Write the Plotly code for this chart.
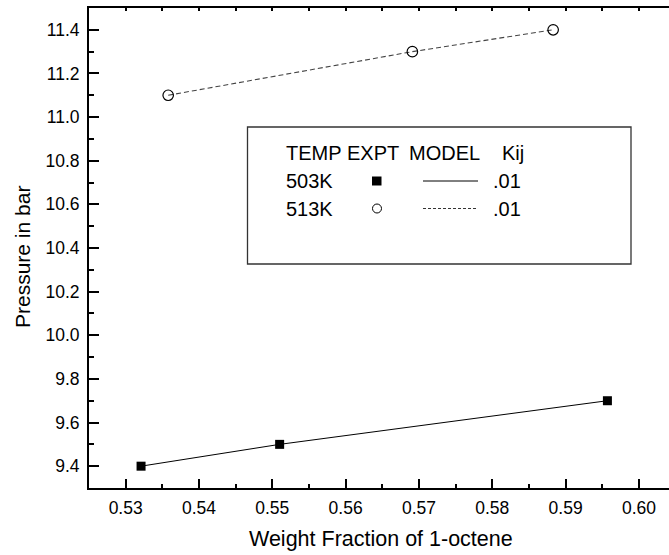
import plotly.graph_objects as go

# ---- data ----
x_503 = [0.5321, 0.5510, 0.5957]
y_503 = [9.4, 9.5, 9.7]
x_513 = [0.5358, 0.5691, 0.5883]
y_513 = [11.1, 11.3, 11.4]

legend_header = ["TEMP", "EXPT", "MODEL", "Kij"]
legend_temps = ["503K", "513K"]
legend_kij = [".01", ".01"]

x_title = "Weight Fraction of 1-octene"
y_title = "Pressure in bar"

FONT = "Liberation Sans, Arial, sans-serif"
W, H = 669, 555
ML, MR, MT, MB = 89, 0, 8, 67
PW = W - ML - MR
PH = H - MT - MB


def px(x):
    return (x - ML) / PW


def py(y):
    return (H - MB - y) / PH


fig = go.Figure()

fig.add_trace(go.Scatter(
    x=x_503, y=y_503, mode="lines+markers",
    line=dict(color="black", width=1),
    marker=dict(symbol="square", size=9, color="black"),
    showlegend=False))

fig.add_trace(go.Scatter(
    x=x_513, y=y_513, mode="lines+markers",
    line=dict(color="#444444", width=1.1, dash="5px,3px"),
    marker=dict(symbol="circle-open", size=10.5, color="black", line=dict(width=1.2)),
    showlegend=False))

# invisible trace to activate top axis
fig.add_trace(go.Scatter(x=[0.53], y=[10], xaxis="x2", mode="markers",
                         marker=dict(opacity=0), showlegend=False, hoverinfo="skip"))

xrange = [0.525, 0.6041]
fig.update_layout(
    width=W, height=H,
    margin=dict(l=ML, r=MR, t=MT, b=MB),
    paper_bgcolor="white", plot_bgcolor="white",
    font=dict(family=FONT, color="black"),
    xaxis=dict(range=xrange, showgrid=False, zeroline=False,
               showline=True, linecolor="black", linewidth=2,
               ticks="inside", ticklen=9, tickwidth=1.5, tickcolor="black",
               dtick=0.01, tick0=0.53, tickformat=".2f",
               minor=dict(ticks="inside", ticklen=4.5, tickwidth=1.5, dtick=0.005, tick0=0.525, tickcolor="black"),
               tickfont=dict(size=17.5, family=FONT), ticklabelstandoff=3),
    xaxis2=dict(range=xrange, overlaying="x", side="top", anchor="y",
                showgrid=False, zeroline=False,
                showline=True, linecolor="black", linewidth=2,
                ticks="inside", ticklen=3, tickwidth=1.5, tickcolor="black",
                dtick=0.005, tick0=0.525, showticklabels=False),
    yaxis=dict(range=[9.3, 11.5], showgrid=False, zeroline=False,
               showline=True, linecolor="black", linewidth=2,
               ticks="inside", ticklen=9.5, tickwidth=1.5, tickcolor="black",
               dtick=0.2, tick0=9.4, tickformat=".1f",
               minor=dict(ticks="inside", ticklen=5, tickwidth=1.5, dtick=0.1, tick0=9.3, tickcolor="black"),
               tickfont=dict(size=17.5, family=FONT), ticklabelstandoff=4),
)

# axis titles
fig.add_annotation(x=px(380.5), y=py(539), xref="paper", yref="paper",
                   text=x_title, showarrow=False, xanchor="center", yanchor="middle",
                   font=dict(size=21.5, family=FONT))
fig.add_annotation(x=px(22), y=py(257), xref="paper", yref="paper",
                   text=y_title, showarrow=False, textangle=-90,
                   xanchor="center", yanchor="middle",
                   font=dict(size=21, family=FONT))

# legend box
shapes = [dict(type="rect", xref="paper", yref="paper",
               x0=px(247.5), x1=px(631), y0=py(264), y1=py(127),
               line=dict(color="#333333", width=1.3), fillcolor="white", layer="above")]

LF = 20
hdr_x = [284, 345, 406.5, 500]
for t, xx in zip(legend_header, hdr_x):
    fig.add_annotation(x=px(xx), y=py(153), xref="paper", yref="paper", text=t,
                       showarrow=False, xanchor="left", yanchor="middle",
                       font=dict(size=LF, family=FONT))
row_y = [181, 208.5]
for i, (t, k) in enumerate(zip(legend_temps, legend_kij)):
    fig.add_annotation(x=px(284), y=py(row_y[i]), xref="paper", yref="paper", text=t,
                       showarrow=False, xanchor="left", yanchor="middle",
                       font=dict(size=LF, family=FONT))
    fig.add_annotation(x=px(491), y=py(row_y[i]), xref="paper", yref="paper", text=k,
                       showarrow=False, xanchor="left", yanchor="middle",
                       font=dict(size=LF, family=FONT))

# legend symbols
shapes.append(dict(type="rect", xref="paper", yref="paper",
                   x0=px(372), x1=px(381.5), y0=py(185.5), y1=py(176.5),
                   line=dict(color="black", width=0), fillcolor="black", layer="above"))
shapes.append(dict(type="circle", xref="paper", yref="paper",
                   x0=px(372.5), x1=px(381.5), y0=py(213), y1=py(204),
                   line=dict(color="black", width=1), fillcolor="white", layer="above"))
shapes.append(dict(type="line", xref="paper", yref="paper",
                   x0=px(423), x1=px(478), y0=py(181), y1=py(181),
                   line=dict(color="black", width=1), layer="above"))
shapes.append(dict(type="line", xref="paper", yref="paper",
                   x0=px(423), x1=px(478), y0=py(208.5), y1=py(208.5),
                   line=dict(color="#333333", width=1, dash="3px,2px"), layer="above"))
fig.update_layout(shapes=shapes)

fig.write_html("out.html")
